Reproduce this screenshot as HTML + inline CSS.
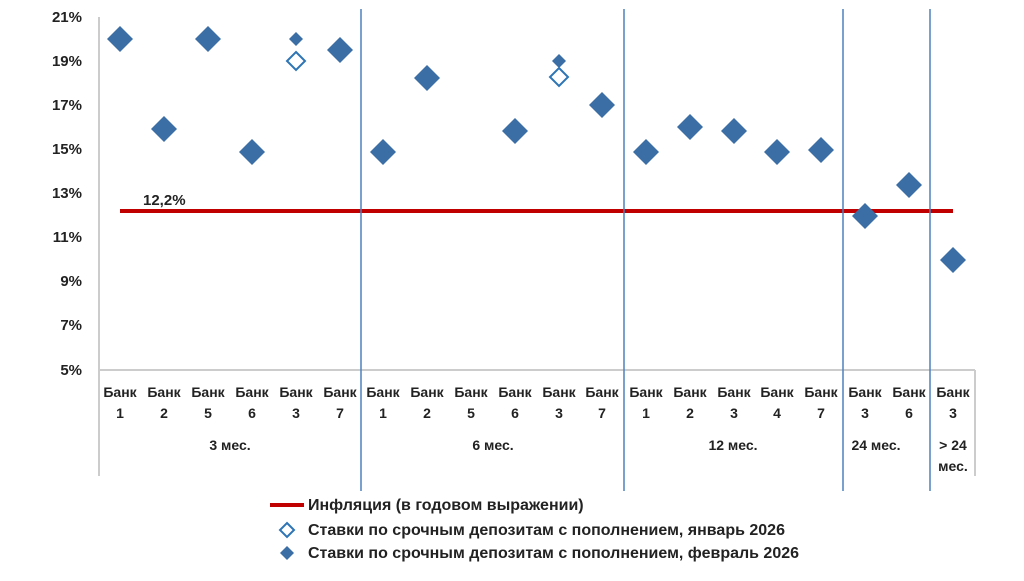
<!DOCTYPE html>
<html><head><meta charset="utf-8"><style>
body{margin:0;background:#fff;width:1024px;height:576px;overflow:hidden}
text{font-family:"Liberation Sans","DejaVu Sans",sans-serif;font-weight:bold;fill:#222}
</style></head><body>
<svg width="1024" height="576" xmlns="http://www.w3.org/2000/svg">
<g stroke="#ccc" stroke-width="2" fill="none">
<line x1="99" y1="17" x2="99" y2="476"/>
<line x1="99" y1="370" x2="975" y2="370"/>
<line x1="975" y1="370" x2="975" y2="476"/>
</g>
<g font-size="15" text-anchor="end">
<text x="82" y="22">21%</text><text x="82" y="66">19%</text><text x="82" y="110">17%</text>
<text x="82" y="154">15%</text><text x="82" y="198">13%</text><text x="82" y="242">11%</text>
<text x="82" y="286">9%</text><text x="82" y="330">7%</text><text x="82" y="375">5%</text>
</g>
<line x1="120" y1="211" x2="953" y2="211" stroke="#c00000" stroke-width="4"/>
<text x="143" y="205" font-size="15" font-weight="normal">12,2%</text>
<g stroke="#4f81bd" stroke-width="1.5">
<line x1="361" y1="9" x2="361" y2="491"/><line x1="624" y1="9" x2="624" y2="491"/>
<line x1="843" y1="9" x2="843" y2="491"/><line x1="930" y1="9" x2="930" y2="491"/>
</g>
<g fill="#3a6ea5">
<path d="M120 26l13 13-13 13-13-13z"/>
<path d="M164 116l13 13-13 13-13-13z"/>
<path d="M208 26l13 13-13 13-13-13z"/>
<path d="M252 139l13 13-13 13-13-13z"/>
<path d="M296 32l7 7-7 7-7-7z"/>
<path d="M340 37l13 13-13 13-13-13z"/>
<path d="M383 139l13 13-13 13-13-13z"/>
<path d="M427 65l13 13-13 13-13-13z"/>
<path d="M515 118l13 13-13 13-13-13z"/>
<path d="M559 54l7 7-7 7-7-7z"/>
<path d="M602 92l13 13-13 13-13-13z"/>
<path d="M646 139l13 13-13 13-13-13z"/>
<path d="M690 114l13 13-13 13-13-13z"/>
<path d="M734 118l13 13-13 13-13-13z"/>
<path d="M777 139l13 13-13 13-13-13z"/>
<path d="M821 137l13 13-13 13-13-13z"/>
<path d="M865 203l13 13-13 13-13-13z"/>
<path d="M909 172l13 13-13 13-13-13z"/>
<path d="M953 247l13 13-13 13-13-13z"/>
</g>
<g fill="#fff" stroke="#2e75b6" stroke-width="2">
<path d="M296 52l9 9-9 9-9-9z"/>
<path d="M559 68l9 9-9 9-9-9z"/>
</g>
<g font-size="14" text-anchor="middle">
<text x="120" y="397">Банк</text><text x="120" y="418">1</text>
<text x="164" y="397">Банк</text><text x="164" y="418">2</text>
<text x="208" y="397">Банк</text><text x="208" y="418">5</text>
<text x="252" y="397">Банк</text><text x="252" y="418">6</text>
<text x="296" y="397">Банк</text><text x="296" y="418">3</text>
<text x="340" y="397">Банк</text><text x="340" y="418">7</text>
<text x="383" y="397">Банк</text><text x="383" y="418">1</text>
<text x="427" y="397">Банк</text><text x="427" y="418">2</text>
<text x="471" y="397">Банк</text><text x="471" y="418">5</text>
<text x="515" y="397">Банк</text><text x="515" y="418">6</text>
<text x="559" y="397">Банк</text><text x="559" y="418">3</text>
<text x="602" y="397">Банк</text><text x="602" y="418">7</text>
<text x="646" y="397">Банк</text><text x="646" y="418">1</text>
<text x="690" y="397">Банк</text><text x="690" y="418">2</text>
<text x="734" y="397">Банк</text><text x="734" y="418">3</text>
<text x="777" y="397">Банк</text><text x="777" y="418">4</text>
<text x="821" y="397">Банк</text><text x="821" y="418">7</text>
<text x="865" y="397">Банк</text><text x="865" y="418">3</text>
<text x="909" y="397">Банк</text><text x="909" y="418">6</text>
<text x="953" y="397">Банк</text><text x="953" y="418">3</text>
<text x="230" y="450">3 мес.</text>
<text x="493" y="450">6 мес.</text>
<text x="733" y="450">12 мес.</text>
<text x="876" y="450">24 мес.</text>
<text x="953" y="450">&gt; 24</text><text x="953" y="471">мес.</text>
</g>
<line x1="270" y1="505" x2="304" y2="505" stroke="#c00000" stroke-width="4"/>
<path d="M287 523l7 7-7 7-7-7z" fill="#fff" stroke="#2e75b6" stroke-width="2"/>
<path d="M287 546l7 7-7 7-7-7z" fill="#3a6ea5"/>
<g font-size="16">
<text x="308" y="510">Инфляция (в годовом выражении)</text>
<text x="308" y="535">Ставки по срочным депозитам с пополнением, январь 2026</text>
<text x="308" y="558">Ставки по срочным депозитам с пополнением, февраль 2026</text>
</g>
</svg>
</body></html>
